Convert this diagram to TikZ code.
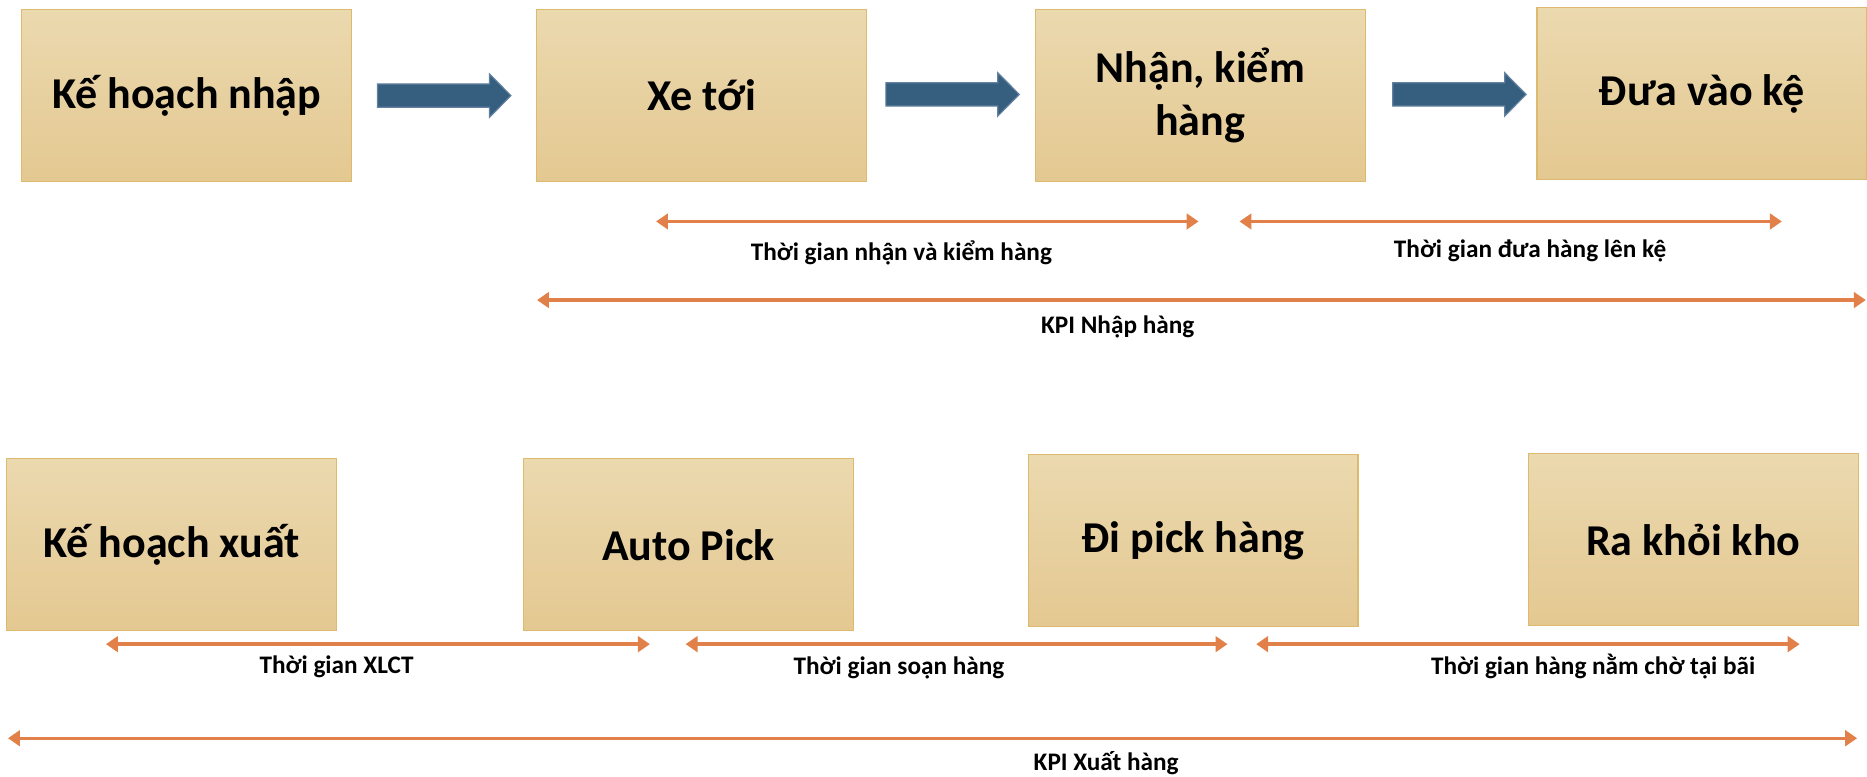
\documentclass[tikz,border=0pt]{standalone}
\usepackage{fontspec}
\setmainfont{Carlito}
\usetikzlibrary{arrows.meta,calc}
\definecolor{boxtop}{RGB}{235,217,175}
\definecolor{boxbot}{RGB}{228,200,145}
\definecolor{boxline}{RGB}{222,186,110}
\definecolor{bluefill}{RGB}{54,94,126}
\definecolor{blueline}{RGB}{100,130,160}
\definecolor{orangeline}{RGB}{226,128,74}
\tikzset{
  stepbox/.style={rectangle, draw=boxline, line width=1pt, top color=boxtop, bottom color=boxbot,
    minimum width=277pt, minimum height=144.5pt, inner sep=0pt, align=center,
    font=\fontsize{37}{45}\selectfont\bfseries},
  blockarrow/.style={fill=bluefill, draw=blueline, line width=1pt, line join=miter},
  spanarrow/.style={draw=orangeline, line width=2.8pt, {Triangle[length=10pt,width=13pt]}-{Triangle[length=10pt,width=13pt]}},
  spanlabel/.style={font=\fontsize{21.2}{25}\selectfont\bfseries, inner sep=0pt}
}
\begin{document}
\begin{tikzpicture}[x=1pt,y=-1pt]
\useasboundingbox (0,0) rectangle (1568,652);
% top row
\node[stepbox] (A) at (156.8,80.3) {Kế hoạch nhập};
\node[stepbox] (B) at (589.4,80.3) {Xe tới};
\node[stepbox] (C) at (1008,80.3) {Nhận, kiểm\\hàng};
\node[stepbox] (D) at (1429.4,78.8) {Đưa vào kệ};
% bottom row
\node[stepbox] (E) at (144.2,457.5) {Kế hoạch xuất};
\node[stepbox] (F) at (578.2,457.5) {Auto Pick};
\node[stepbox] (G) at (1002,454) {Đi pick hàng};
\node[stepbox] (H) at (1422,453.2) {Ra khỏi kho};
% block arrows
\coordinate (a1) at ($(A.east)+(21.3,0)$);
\coordinate (a2) at ($(B.east)+(15.6,-1)$);
\coordinate (a3) at ($(C.east)+(22.7,-1)$);
\foreach \s in {a1,a2,a3}{
  \draw[blockarrow] (\s) ++(0,-9.8) -- ++(94,0) -- ++(0,-8.4) -- ++(18,18.2) -- ++(-18,18.2) -- ++(0,-8.4) -- ++(-94,0) -- cycle;
}
% span arrows, top
\coordinate (p1) at (551,186);   \coordinate (q1) at (1006.6,186);
\coordinate (p2) at (1041,186);  \coordinate (q2) at (1496.5,186);
\coordinate (p3) at (451,252);   \coordinate (q3) at (1567,252);
\draw[spanarrow] (p1) -- (q1);
\draw[spanarrow] (p2) -- (q2);
\draw[spanarrow] (p3) -- (q3);
\node[spanlabel] (l1) at (757,212) {Thời gian nhận và kiểm hàng};
\node[spanlabel] (l2) at (1285,211) {Thời gian đưa hàng lên kệ};
\node[spanlabel] (l3) at (938.7,274.5) {KPI Nhập hàng};
% span arrows, bottom
\coordinate (p4) at (89,541);    \coordinate (q4) at (545.8,541);
\coordinate (p5) at (575.8,541); \coordinate (q5) at (1030.9,541);
\coordinate (p6) at (1055,541);  \coordinate (q6) at (1511.4,541);
\coordinate (p7) at (6.7,620);   \coordinate (q7) at (1559.7,620);
\draw[spanarrow] (p4) -- (q4);
\draw[spanarrow] (p5) -- (q5);
\draw[spanarrow] (p6) -- (q6);
\draw[spanarrow] (p7) -- (q7);
\node[spanlabel] (l4) at (282.7,559.7) {Thời gian XLCT};
\node[spanlabel] (l5) at (755,561) {Thời gian soạn hàng};
\node[spanlabel] (l6) at (1338,559.7) {Thời gian hàng nằm chờ tại bãi};
\node[spanlabel] (l7) at (929,640.6) {KPI Xuất hàng};
\end{tikzpicture}
\end{document}
